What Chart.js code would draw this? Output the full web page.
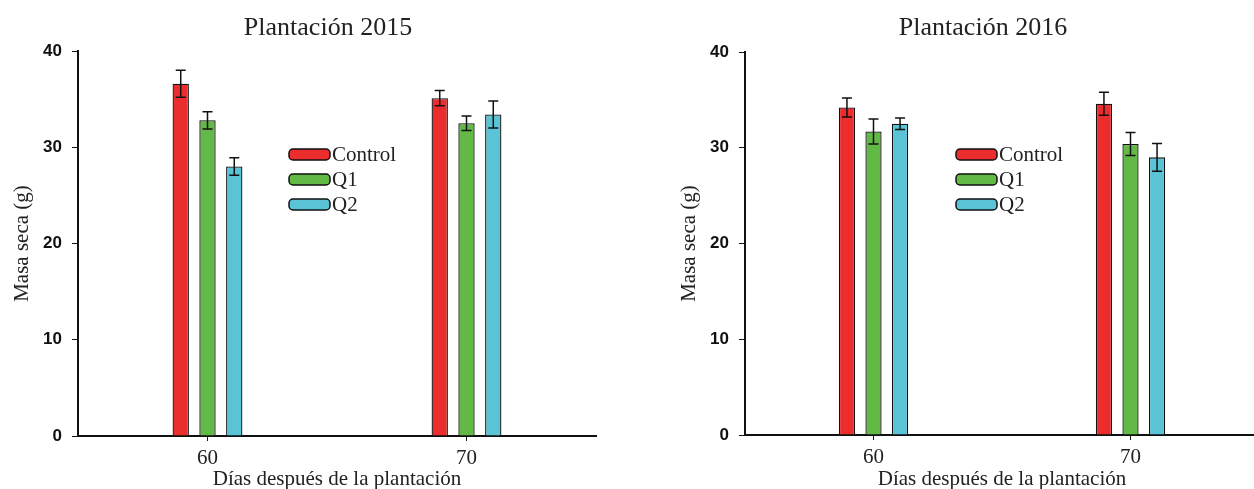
<!DOCTYPE html>
<html>
<head>
<meta charset="utf-8">
<script src="https://cdn.jsdelivr.net/npm/chart.js@4"></script>
<style>
  body { margin: 0; background: #fff; width: 1254px; height: 489px; overflow: hidden; position: relative; }
  canvas { position: absolute; top: 0; }
</style>
</head>
<body>
<canvas id="c2015" width="600" height="489" style="left:0px"></canvas>
<canvas id="c2016" width="592" height="489" style="left:667px"></canvas>
<script>
// días después de la plantación
const categories = ["60", "70"];
const seriesNames = ["Control", "Q1", "Q2"];
const yTicks = [0, 10, 20, 30, 40];

// plantación 2015
const control2015 = [36.6, 35.1];
const q1_2015 = [32.8, 32.5];
const q2_2015 = [28.0, 33.4];
const errControl2015 = [1.4, 0.8];
const errQ1_2015 = [0.9, 0.75];
const errQ2_2015 = [0.9, 1.4];

// plantación 2016
const control2016 = [34.2, 34.6];
const q1_2016 = [31.7, 30.4];
const q2_2016 = [32.5, 29.0];
const errControl2016 = [1.0, 1.2];
const errQ1_2016 = [1.3, 1.2];
const errQ2_2016 = [0.6, 1.45];

const colors = ["#ec2d2d", "#63b946", "#5ac3d5"];
const serif = "'Liberation Serif', 'Times New Roman', serif";

// barras de error + leyenda + título
const extras = {
  id: "extras",
  afterDatasetsDraw(chart) {
    const ctx = chart.ctx;
    const y = chart.scales.y;
    ctx.save();
    ctx.strokeStyle = "#111";
    ctx.lineWidth = 1.5;
    chart.data.datasets.forEach((ds, i) => {
      chart.getDatasetMeta(i).data.forEach((bar, j) => {
        const top = y.getPixelForValue(ds.data[j] + ds.err[j]);
        const bot = y.getPixelForValue(ds.data[j] - ds.err[j]);
        ctx.beginPath();
        ctx.moveTo(bar.x, top); ctx.lineTo(bar.x, bot);
        ctx.moveTo(bar.x - 5, top); ctx.lineTo(bar.x + 5, top);
        ctx.moveTo(bar.x - 5, bot); ctx.lineTo(bar.x + 5, bot);
        ctx.stroke();
      });
    });
    ctx.restore();
  },
  afterDraw(chart, args, opts) {
    const ctx = chart.ctx;
    const area = chart.chartArea;
    ctx.save();
    // título
    ctx.fillStyle = "#222";
    ctx.font = "26px " + serif;
    ctx.textAlign = "center";
    ctx.textBaseline = "alphabetic";
    ctx.fillText(opts.text, area.left + opts.titleOffset, 35);
    // leyenda
    ctx.font = "21px " + serif;
    ctx.textAlign = "left";
    ctx.textBaseline = "middle";
    chart.data.datasets.forEach((ds, i) => {
      const bx = area.left + 211, by = 149 + i * 25;
      ctx.beginPath();
      ctx.roundRect(bx, by, 41, 11, 4);
      ctx.fillStyle = ds.backgroundColor;
      ctx.fill();
      ctx.lineWidth = 1.5;
      ctx.strokeStyle = "#111";
      ctx.stroke();
      ctx.fillStyle = "#222";
      ctx.fillText(ds.label, bx + 43, by + 6);
    });
    ctx.restore();
  }
};

function makeChart(id, title, titleOffset, values, errors, pad) {
  return new Chart(document.getElementById(id), {
    type: "bar",
    data: {
      labels: categories,
      datasets: seriesNames.map((name, i) => ({
        label: name,
        data: values[i],
        err: errors[i],
        backgroundColor: colors[i],
        borderColor: "#111",
        borderWidth: 1.3,
        barPercentage: 0.61,
        categoryPercentage: 0.31
      }))
    },
    options: {
      responsive: false,
      devicePixelRatio: 1,
      animation: false,
      layout: { padding: { top: pad.top, right: pad.right, left: 0, bottom: 0 } },
      plugins: {
        legend: { display: false },
        tooltip: { enabled: false },
        extras: { text: title, titleOffset: titleOffset }
      },
      scales: {
        x: {
          afterFit: s => { s.height = pad.xh; },
          grid: { display: true, drawOnChartArea: false, offset: false, tickLength: 5, color: "#111" },
          border: { display: true, color: "#111", width: 2 },
          ticks: { color: "#222", padding: 5, font: { family: serif, size: 21 } },
          title: { display: true, text: "Días después de la plantación", color: "#222",
                   padding: { top: 0, bottom: -3 }, font: { family: serif, size: 21 } }
        },
        y: {
          min: 0, max: 40,
          afterFit: s => { s.width = 78; },
          afterBuildTicks: s => { s.ticks = yTicks.map(v => ({ value: v })); },
          grid: { display: true, drawOnChartArea: false, tickLength: 6, color: "#111" },
          border: { display: true, color: "#111", width: 2 },
          ticks: { color: "#111", padding: 10, font: { family: "'Liberation Sans', Arial, sans-serif", size: 17, weight: "bold" } },
          title: { display: true, text: "Masa seca (g)", color: "#222",
                   padding: { top: 10, bottom: 0 }, font: { family: serif, size: 21 } }
        }
      }
    },
    plugins: [extras]
  });
}

makeChart("c2015", "Plantación 2015", 250,
  [control2015, q1_2015, q2_2015], [errControl2015, errQ1_2015, errQ2_2015],
  { top: 51, right: 4, xh: 53 });
makeChart("c2016", "Plantación 2016", 238,
  [control2016, q1_2016, q2_2016], [errControl2016, errQ1_2016, errQ2_2016],
  { top: 52, right: 0, xh: 54 });
</script>
</body>
</html>
